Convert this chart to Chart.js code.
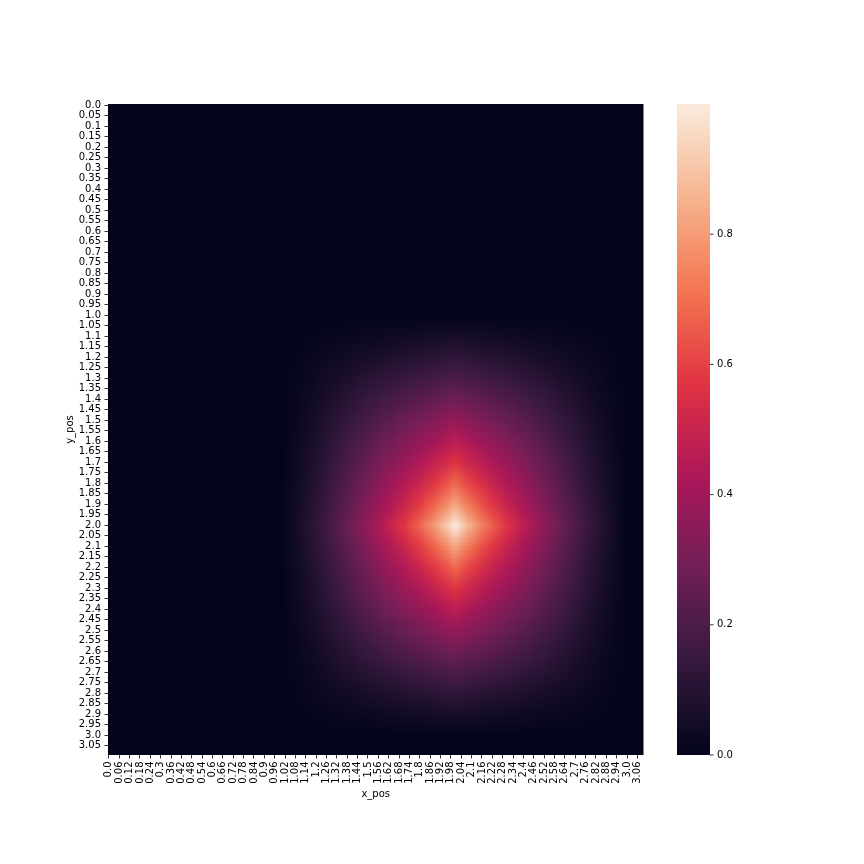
<!DOCTYPE html>
<html><head><meta charset="utf-8">
<script src="https://cdn.jsdelivr.net/npm/chart.js@4/dist/chart.umd.min.js"></script>
<style>html,body{margin:0;padding:0;background:#fff}canvas{display:block}</style>
</head><body>
<canvas id="c" width="864" height="864" style="width:864px;height:864px"></canvas>
<script>
// ---- data (sampled every 0.1 from the picture) ----
const xValues = [0.0,0.1,0.2,0.3,0.4,0.5,0.6,0.7,0.8,0.9,1.0,1.1,1.2,1.3,1.4,1.5,1.6,1.7,1.8,1.9,2.0,2.1,2.2,2.3,2.4,2.5,2.6,2.7,2.8,2.9,3.0,3.1];
const yValues = [0.0,0.1,0.2,0.3,0.4,0.5,0.6,0.7,0.8,0.9,1.0,1.1,1.2,1.3,1.4,1.5,1.6,1.7,1.8,1.9,2.0,2.1,2.2,2.3,2.4,2.5,2.6,2.7,2.8,2.9,3.0,3.1];
const zValues = [
[0,0,0,0,0,0,0,0,0,0,0,0,0,0,0,0,0,0,0,0,0,0,0,0,0,0,0,0,0,0,0,0],
[0,0,0,0,0,0,0,0,0,0,0,0,0,0,0,0,0,0,0,0,0,0,0,0,0,0,0,0,0,0,0,0],
[0,0,0,0,0,0,0,0,0,0,0,0,0,0,0,0,0,0,0,0,0,0,0,0,0,0,0,0,0,0,0,0],
[0,0,0,0,0,0,0,0,0,0,0,0,0,0,0,0,0,0,0,0,0,0,0,0,0,0,0,0,0,0,0,0],
[0,0,0,0,0,0,0,0,0,0,0,0,0,0,0,0,0,0,0,0,0,0,0,0,0,0,0,0,0,0,0,0],
[0,0,0,0,0,0,0,0,0,0,0,0,0,0,0,0,0,0,0,0,0,0,0,0,0,0,0,0,0,0,0,0],
[0,0,0,0,0,0,0,0,0,0,0,0,0,0,0,0,0,0,0,0,0,0,0,0,0,0,0,0,0,0,0,0],
[0,0,0,0,0,0,0,0,0,0,0,0,0,0,0,0,0,0,0,0,0,0,0,0,0,0,0,0,0,0,0,0],
[0,0,0,0,0,0,0,0,0,0,0,0,0,0,0,0,0,0,0,0,0,0,0,0,0,0,0,0,0,0,0,0],
[0,0,0,0,0,0,0,0,0,0,0,0,0,0,0,0,0,0,0,0,0,0,0,0,0,0,0,0,0,0,0,0],
[0,0,0,0,0,0,0,0,0,0,0,0,0,0,0,0,0,0,0,0,0,0,0,0,0,0,0,0,0,0,0,0],
[0,0,0,0,0,0,0,0,0,0,0,.004,.009,.015,.021,.027,.033,.040,.047,.054,.063,.054,.047,.040,.033,.027,.021,.015,.009,.004,0,0],
[0,0,0,0,0,0,0,0,0,0,0,.009,.022,.035,.050,.064,.078,.090,.103,.115,.128,.115,.103,.090,.078,.064,.050,.035,.022,.009,0,0],
[0,0,0,0,0,0,0,0,0,0,0,.015,.035,.059,.082,.106,.127,.148,.167,.185,.204,.185,.167,.148,.127,.106,.082,.059,.035,.015,0,0],
[0,0,0,0,0,0,0,0,0,0,0,.021,.050,.082,.116,.148,.179,.208,.234,.260,.286,.260,.234,.208,.179,.148,.116,.082,.050,.021,0,0],
[0,0,0,0,0,0,0,0,0,0,0,.027,.064,.106,.148,.190,.230,.267,.303,.337,.373,.337,.303,.267,.230,.190,.148,.106,.064,.027,0,0],
[0,0,0,0,0,0,0,0,0,0,0,.033,.078,.127,.179,.230,.279,.326,.371,.417,.466,.417,.371,.326,.279,.230,.179,.127,.078,.033,0,0],
[0,0,0,0,0,0,0,0,0,0,0,.040,.090,.148,.208,.267,.326,.383,.440,.500,.568,.500,.440,.383,.326,.267,.208,.148,.090,.040,0,0],
[0,0,0,0,0,0,0,0,0,0,0,.047,.103,.167,.234,.303,.371,.440,.512,.591,.684,.591,.512,.440,.371,.303,.234,.167,.103,.047,0,0],
[0,0,0,0,0,0,0,0,0,0,0,.054,.115,.185,.260,.337,.417,.500,.591,.696,.824,.696,.591,.500,.417,.337,.260,.185,.115,.054,0,0],
[0,0,0,0,0,0,0,0,0,0,0,.063,.128,.204,.286,.373,.466,.568,.684,.824,1.000,.824,.684,.568,.466,.373,.286,.204,.128,.063,0,0],
[0,0,0,0,0,0,0,0,0,0,0,.054,.115,.185,.260,.337,.417,.500,.591,.696,.824,.696,.591,.500,.417,.337,.260,.185,.115,.054,0,0],
[0,0,0,0,0,0,0,0,0,0,0,.047,.103,.167,.234,.303,.371,.440,.512,.591,.684,.591,.512,.440,.371,.303,.234,.167,.103,.047,0,0],
[0,0,0,0,0,0,0,0,0,0,0,.040,.090,.148,.208,.267,.326,.383,.440,.500,.568,.500,.440,.383,.326,.267,.208,.148,.090,.040,0,0],
[0,0,0,0,0,0,0,0,0,0,0,.033,.078,.127,.179,.230,.279,.326,.371,.417,.466,.417,.371,.326,.279,.230,.179,.127,.078,.033,0,0],
[0,0,0,0,0,0,0,0,0,0,0,.027,.064,.106,.148,.190,.230,.267,.303,.337,.373,.337,.303,.267,.230,.190,.148,.106,.064,.027,0,0],
[0,0,0,0,0,0,0,0,0,0,0,.021,.050,.082,.116,.148,.179,.208,.234,.260,.286,.260,.234,.208,.179,.148,.116,.082,.050,.021,0,0],
[0,0,0,0,0,0,0,0,0,0,0,.015,.035,.059,.082,.106,.127,.148,.167,.185,.204,.185,.167,.148,.127,.106,.082,.059,.035,.015,0,0],
[0,0,0,0,0,0,0,0,0,0,0,.009,.022,.035,.050,.064,.078,.090,.103,.115,.128,.115,.103,.090,.078,.064,.050,.035,.022,.009,0,0],
[0,0,0,0,0,0,0,0,0,0,0,.004,.009,.015,.021,.027,.033,.040,.047,.054,.063,.054,.047,.040,.033,.027,.021,.015,.009,.004,0,0],
[0,0,0,0,0,0,0,0,0,0,0,0,0,0,0,0,0,0,0,0,0,0,0,0,0,0,0,0,0,0,0,0],
[0,0,0,0,0,0,0,0,0,0,0,0,0,0,0,0,0,0,0,0,0,0,0,0,0,0,0,0,0,0,0,0]
];
const xTickLabels = ['0.0','0.06','0.12','0.18','0.24','0.3','0.36','0.42','0.48','0.54','0.6','0.66','0.72','0.78','0.84','0.9','0.96','1.02','1.08','1.14','1.2','1.26','1.32','1.38','1.44','1.5','1.56','1.62','1.68','1.74','1.8','1.86','1.92','1.98','2.04','2.1','2.16','2.22','2.28','2.34','2.4','2.46','2.52','2.58','2.64','2.7','2.76','2.82','2.88','2.94','3.0','3.06'];
const yTickLabels = ['0.0','0.05','0.1','0.15','0.2','0.25','0.3','0.35','0.4','0.45','0.5','0.55','0.6','0.65','0.7','0.75','0.8','0.85','0.9','0.95','1.0','1.05','1.1','1.15','1.2','1.25','1.3','1.35','1.4','1.45','1.5','1.55','1.6','1.65','1.7','1.75','1.8','1.85','1.9','1.95','2.0','2.05','2.1','2.15','2.2','2.25','2.3','2.35','2.4','2.45','2.5','2.55','2.6','2.65','2.7','2.75','2.8','2.85','2.9','2.95','3.0','3.05'];
const cbTickValues = [0.0,0.2,0.4,0.6,0.8];
const cbTickLabels = ['0.0','0.2','0.4','0.6','0.8'];
const xTitle = 'x_pos';
const yTitle = 'y_pos';

// ---- rendering ----
const gridStep = 0.01;               // original heatmap cell size
const axisMin = 0 - gridStep / 2;
const axisMax = 3.09 + gridStep / 2;
const vmin = 0;
const vmax = Math.max(...zValues.map(r => Math.max(...r)));

const rocketStops = [
  [0.000, [3,5,26]],
  [0.143, [53,25,62]],
  [0.286, [112,31,87]],
  [0.429, [173,23,89]],
  [0.571, [225,51,66]],
  [0.714, [243,118,81]],
  [0.857, [246,180,143]],
  [1.000, [250,235,221]]
];
function rocket(t) {
  t = Math.max(0, Math.min(1, t));
  for (let i = 1; i < rocketStops.length; i++) {
    const [p1, c1] = rocketStops[i];
    const [p0, c0] = rocketStops[i-1];
    if (t <= p1) {
      const f = (t - p0) / (p1 - p0);
      return [0,1,2].map(k => Math.round(c0[k] + (c1[k] - c0[k]) * f));
    }
  }
  return rocketStops[rocketStops.length-1][1];
}

const FONT = "'DejaVu Sans', 'Liberation Sans', sans-serif";
Chart.defaults.font.family = FONT;
Chart.defaults.font.size = 10;
Chart.defaults.color = '#000';

const heatmapPlugin = {
  id: 'heatmap',
  beforeDatasetsDraw(chart) {
    const {ctx, chartArea, scales} = chart;
    const xs = scales.x, ys = scales.y;
    const nx = xValues.length, ny = yValues.length;
    const off = document.createElement('canvas');
    off.width = nx; off.height = ny;
    const octx = off.getContext('2d');
    const img = octx.createImageData(nx, ny);
    for (let r = 0; r < ny; r++) {
      for (let c = 0; c < nx; c++) {
        const col = rocket((zValues[r][c] - vmin) / (vmax - vmin));
        const i = (r * nx + c) * 4;
        img.data[i] = col[0]; img.data[i+1] = col[1]; img.data[i+2] = col[2]; img.data[i+3] = 255;
      }
    }
    octx.putImageData(img, 0, 0);
    const hx = (xValues[1] - xValues[0]) / 2;
    const hy = (yValues[1] - yValues[0]) / 2;
    const x0 = xs.getPixelForValue(xValues[0] - hx);
    const x1 = xs.getPixelForValue(xValues[nx-1] + hx);
    const y0 = ys.getPixelForValue(yValues[0] - hy);
    const y1 = ys.getPixelForValue(yValues[ny-1] + hy);
    ctx.save();
    ctx.beginPath();
    ctx.rect(chartArea.left, chartArea.top, chartArea.right - chartArea.left, chartArea.bottom - chartArea.top);
    ctx.clip();
    ctx.imageSmoothingEnabled = true;
    ctx.drawImage(off, x0, y0, x1 - x0, y1 - y0);
    ctx.restore();
  }
};

const colorbarPlugin = {
  id: 'colorbar',
  afterDraw(chart) {
    const {ctx, chartArea} = chart;
    const cb = chart.scales.cb;
    let pTop = cb ? cb.getPixelForValue(vmax) : NaN;
    let pBot = cb ? cb.getPixelForValue(vmin) : NaN;
    if (!(pBot - pTop > 100)) { pTop = chartArea.top; pBot = chartArea.bottom; }
    const cbLeft = 677, cbWidth = 33;
    const g = ctx.createLinearGradient(0, pBot, 0, pTop);
    for (let k = 0; k <= 64; k++) {
      const t = k / 64;
      const c = rocket(t);
      g.addColorStop(t, `rgb(${c[0]},${c[1]},${c[2]})`);
    }
    ctx.save();
    ctx.fillStyle = g;
    ctx.fillRect(cbLeft, pTop, cbWidth, pBot - pTop);
    ctx.strokeStyle = '#000';
    ctx.lineWidth = 0.8;
    ctx.fillStyle = '#000';
    ctx.font = `10px ${FONT}`;
    ctx.textAlign = 'left';
    ctx.textBaseline = 'middle';
    cbTickValues.forEach((v, i) => {
      const py = pBot - (v - vmin) / (vmax - vmin) * (pBot - pTop);
      ctx.beginPath();
      ctx.moveTo(cbLeft + cbWidth, py);
      ctx.lineTo(cbLeft + cbWidth + 3.5, py);
      ctx.stroke();
      ctx.fillText(cbTickLabels[i], cbLeft + cbWidth + 7, py);
    });
    ctx.restore();
  }
};

new Chart(document.getElementById('c'), {
  type: 'scatter',
  data: { datasets: [{ data: [], pointRadius: 0 }] },
  options: {
    responsive: false,
    animation: false,
    events: [],
    layout: { padding: { left: 60, right: 220.5, top: 104, bottom: 60 } },
    plugins: { legend: { display: false }, tooltip: { enabled: false } },
    scales: {
      x: {
        type: 'linear', position: 'bottom',
        min: axisMin, max: axisMax,
        afterBuildTicks: s => { s.ticks = xTickLabels.map(l => ({ value: parseFloat(l) })); },
        afterFit: s => { s.height = 49; },
        border: { display: false },
        grid: { drawOnChartArea: false, drawTicks: true, tickLength: 3.5, tickColor: '#000', tickWidth: 0.8, color: 'rgba(0,0,0,0)' },
        ticks: { autoSkip: false, minRotation: 90, maxRotation: 90, padding: 3, color: '#000',
                 font: { size: 10, family: FONT },
                 callback: (v, i) => xTickLabels[i] },
        title: { display: true, text: xTitle, color: '#000', font: { size: 10, family: FONT }, padding: { top: 4, bottom: 4 } }
      },
      y: {
        type: 'linear', position: 'left', reverse: true,
        min: axisMin, max: axisMax,
        afterBuildTicks: s => { s.ticks = yTickLabels.map(l => ({ value: parseFloat(l) })); },
        afterFit: s => { s.width = 48; },
        border: { display: false },
        grid: { drawOnChartArea: false, drawTicks: true, tickLength: 3.5, tickColor: '#000', tickWidth: 0.8, color: 'rgba(0,0,0,0)' },
        ticks: { autoSkip: false, padding: 3.5, color: '#000',
                 font: { size: 10, family: FONT },
                 callback: (v, i) => yTickLabels[i] },
        title: { display: true, text: yTitle, color: '#000', font: { size: 10, family: FONT }, padding: { top: 4, bottom: 4 } }
      },
      cb: { type: 'linear', axis: 'y', position: 'right', display: false, min: vmin, max: vmax }
    }
  },
  plugins: [heatmapPlugin, colorbarPlugin]
});
</script>
</body></html>
